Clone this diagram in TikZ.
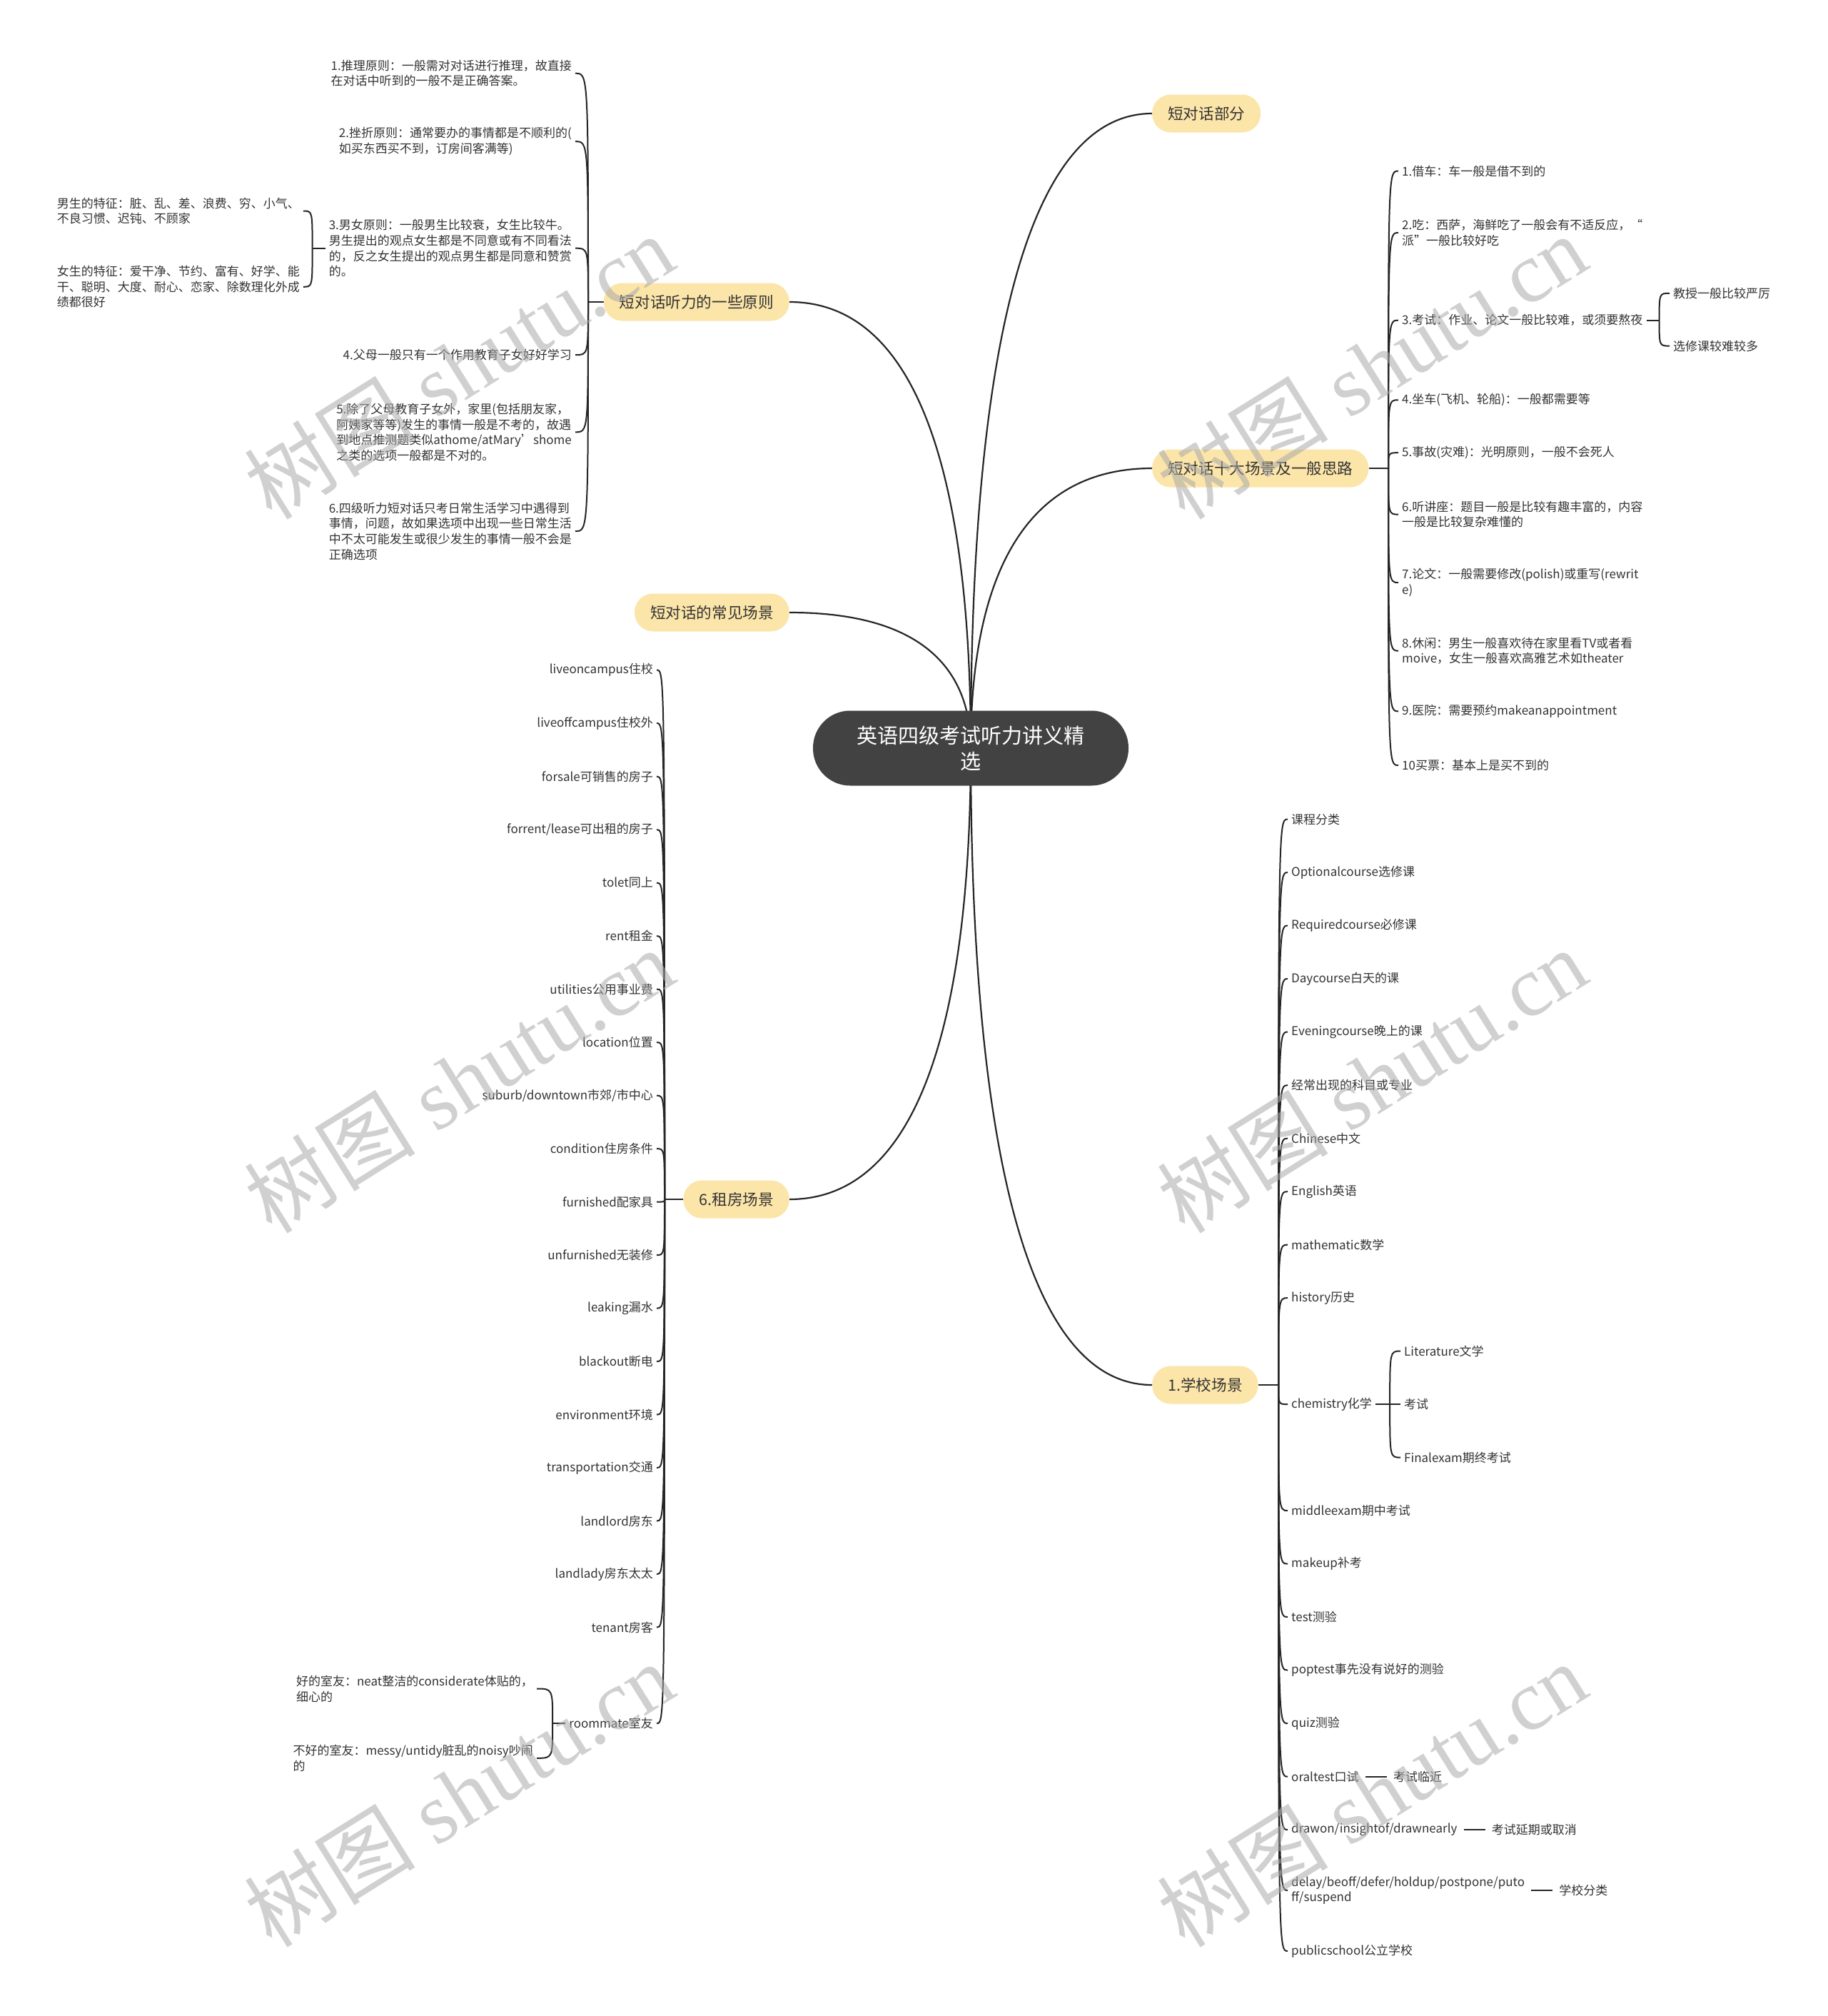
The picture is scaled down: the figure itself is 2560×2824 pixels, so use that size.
\documentclass[tikz,border=0pt]{standalone}
\usepackage{fontspec}
\setmainfont{Noto Sans CJK SC}
\newfontfamily\wmlatin{Liberation Serif}
\usetikzlibrary{calc,backgrounds,positioning}
\definecolor{txtc}{RGB}{51,51,51}
\definecolor{linec}{RGB}{38,38,38}
\definecolor{rootc}{RGB}{66,66,66}
\definecolor{lonec}{RGB}{252,229,169}
\definecolor{wmc}{RGB}{170,170,170}
\newcommand\rootlink[1]{\draw[rootconn] (root.center) .. controls ($(root.center)!0.5!(root.center |- #1)$) and ($(#1)!0.8!(root.center |- #1)$) .. (#1);}
\newcommand\hk[2]{\draw[conn] (#1) .. controls (#1 |- #2) and (#1 |- #2) .. (#2);}
\begin{document}
\begin{tikzpicture}[x=1pt,y=-1pt,
  rootnode/.style={fill=rootc, text=white, rounded corners=52pt, minimum width=442pt, minimum height=105pt, align=center, font=\fontsize{29}{36}\selectfont, inner sep=0pt},
  lone/.style={fill=lonec, rounded corners=26pt, minimum height=53pt, inner xsep=22pt, inner ysep=0pt, font=\fontsize{21.6}{26}\selectfont, text=txtc},
  leaf/.style={font=\fontsize{17}{21.6}\selectfont, inner xsep=5pt, inner ysep=3pt, align=left, text=txtc},
  conn/.style={draw=linec, line width=2pt},
  rootconn/.style={draw=linec, line width=2.2pt},
  wm/.style={text=wmc, opacity=0.55, font=\fontsize{120}{120}\selectfont, rotate=32, inner sep=0pt}]
\useasboundingbox (0,0) rectangle (2560,2824);
% root
\node[rootnode] (root) at (1360,1048) {英语四级考试听力讲义精\\选};
% level 1
\node[lone, anchor=west] (A) at (1614,159) {短对话部分};
\node[lone, anchor=west] (B) at (1614,656) {短对话十大场景及一般思路};
\node[lone, anchor=east] (C) at (1106,423) {短对话听力的一些原则};
\node[lone, anchor=east] (D) at (1106,858) {短对话的常见场景};
\node[lone, anchor=east] (E) at (1106,1680) {6.租房场景};
\node[lone, anchor=west] (F) at (1614,1940) {1.学校场景};
% B children
\coordinate (jB) at (1945,656);
\node[leaf, anchor=west] (b1) at (1959,239.6) {1.借车：车一般是借不到的};
\node[leaf, anchor=west] (b2) at (1959,326) {2.吃：西萨，海鲜吃了一般会有不适反应，“\\派”一般比较好吃};
\node[leaf, anchor=west] (b3) at (1959,448.6) {3.考试：作业、论文一般比较难，或须要熬夜};
\node[leaf, anchor=west] (b4) at (1959,560.3) {4.坐车(飞机、轮船)：一般都需要等};
\node[leaf, anchor=west] (b5) at (1959,634.2) {5.事故(灾难)：光明原则，一般不会死人};
\node[leaf, anchor=west] (b6) at (1959,720.6) {6.听讲座：题目一般是比较有趣丰富的，内容\\一般是比较复杂难懂的};
\node[leaf, anchor=west] (b7) at (1959,816.1) {7.论文：一般需要修改(polish)或重写(rewrit\\e)};
\node[leaf, anchor=west] (b8) at (1959,911.6) {8.休闲：男生一般喜欢待在家里看TV或者看\\moive，女生一般喜欢高雅艺术如theater};
\node[leaf, anchor=west] (b9) at (1959,996.3) {9.医院：需要预约makeanappointment};
\node[leaf, anchor=west] (b10) at (1959,1072) {10买票：基本上是买不到的};
\coordinate (jB3) at ([xshift=18pt]b3.east);
\node[leaf, anchor=west] (b3a) at (2339,410.8) {教授一般比较严厉};
\node[leaf, anchor=west] (b3b) at (2339,484.6) {选修课较难较多};
% C children
\coordinate (jC) at (824,423);
\node[leaf, anchor=east] (c1) at (806,102.7) {1.推理原则：一般需对对话进行推理，故直接\\在对话中听到的一般不是正确答案。};
\node[leaf, anchor=east] (c2) at (806,198.2) {2.挫折原则：通常要办的事情都是不顺利的(\\如买东西买不到，订房间客满等)};
\node[leaf, anchor=east] (c3) at (806,347.7) {3.男女原则：一般男生比较衰，女生比较牛。\\男生提出的观点女生都是不同意或有不同看法\\的，反之女生提出的观点男生都是同意和赞赏\\的。};
\node[leaf, anchor=east] (c4) at (806,497.2) {4.父母一般只有一个作用教育子女好好学习};
\node[leaf, anchor=east] (c5) at (806,605.3) {5.除了父母教育子女外，家里(包括朋友家，\\阿姨家等等)发生的事情一般是不考的，故遇\\到地点推测题类似athome/atMary’shome\\之类的选项一般都是不对的。};
\node[leaf, anchor=east] (c6) at (806,744.1) {6.四级听力短对话只考日常生活学习中遇得到\\事情，问题，故如果选项中出现一些日常生活\\中不太可能发生或很少发生的事情一般不会是\\正确选项};
\coordinate (jC3) at ([xshift=-18pt]c3.west);
\node[leaf, anchor=east] (c3a) at (425,295.5) {男生的特征：脏、乱、差、浪费、穷、小气、\\不良习惯、迟钝、不顾家};
\node[leaf, anchor=east] (c3b) at (425,401.8) {女生的特征：爱干净、节约、富有、好学、能\\干、聪明、大度、耐心、恋家、除数理化外成\\绩都很好};
% E children
\coordinate (jE) at (931,1680);
\node[leaf, anchor=east] (e1) at (920,938.6) {liveoncampus住校};
\node[leaf, anchor=east] (e2) at (920,1013.1) {liveoffcampus住校外};
\node[leaf, anchor=east] (e3) at (920,1087.6) {forsale可销售的房子};
\node[leaf, anchor=east] (e4) at (920,1162.1) {forrent/lease可出租的房子};
\node[leaf, anchor=east] (e5) at (920,1236.6) {tolet同上};
\node[leaf, anchor=east] (e6) at (920,1311.1) {rent租金};
\node[leaf, anchor=east] (e7) at (920,1385.6) {utilities公用事业费};
\node[leaf, anchor=east] (e8) at (920,1460.1) {location位置};
\node[leaf, anchor=east] (e9) at (920,1534.6) {suburb/downtown市郊/市中心};
\node[leaf, anchor=east] (e10) at (920,1609.1) {condition住房条件};
\node[leaf, anchor=east] (e11) at (920,1683.6) {furnished配家具};
\node[leaf, anchor=east] (e12) at (920,1758.1) {unfurnished无装修};
\node[leaf, anchor=east] (e13) at (920,1832.6) {leaking漏水};
\node[leaf, anchor=east] (e14) at (920,1907.1) {blackout断电};
\node[leaf, anchor=east] (e15) at (920,1981.6) {environment环境};
\node[leaf, anchor=east] (e16) at (920,2056.1) {transportation交通};
\node[leaf, anchor=east] (e17) at (920,2130.6) {landlord房东};
\node[leaf, anchor=east] (e18) at (920,2205.1) {landlady房东太太};
\node[leaf, anchor=east] (e19) at (920,2279.6) {tenant房客};
\node[leaf, anchor=east] (e20) at (920,2414) {roommate室友};
\coordinate (jE20) at ([xshift=-18pt]e20.west);
\node[leaf, anchor=east] (e20a) at (752,2365.5) {好的室友：neat整洁的considerate体贴的，\\细心的};
\node[leaf, anchor=east] (e20b) at (752,2462.8) {不好的室友：messy/untidy脏乱的noisy吵闹\\的};
% F children
\coordinate (jF) at (1791,1940);
\node[leaf, anchor=west] (f1) at (1804,1147.6) {课程分类};
\node[leaf, anchor=west] (f2) at (1804,1222.1) {Optionalcourse选修课};
\node[leaf, anchor=west] (f3) at (1804,1296.6) {Requiredcourse必修课};
\node[leaf, anchor=west] (f4) at (1804,1371.1) {Daycourse白天的课};
\node[leaf, anchor=west] (f5) at (1804,1445.6) {Eveningcourse晚上的课};
\node[leaf, anchor=west] (f6) at (1804,1520.1) {经常出现的科目或专业};
\node[leaf, anchor=west] (f7) at (1804,1594.6) {Chinese中文};
\node[leaf, anchor=west] (f8) at (1804,1669.1) {English英语};
\node[leaf, anchor=west] (f9) at (1804,1743.6) {mathematic数学};
\node[leaf, anchor=west] (f10) at (1804,1818.1) {history历史};
\node[leaf, anchor=west] (f11) at (1804,1967.1) {chemistry化学};
\node[leaf, anchor=west] (f12) at (1804,2116.1) {middleexam期中考试};
\node[leaf, anchor=west] (f13) at (1804,2190.6) {makeup补考};
\node[leaf, anchor=west] (f14) at (1804,2265.1) {test测验};
\node[leaf, anchor=west] (f15) at (1804,2339.6) {poptest事先没有说好的测验};
\node[leaf, anchor=west] (f16) at (1804,2414.1) {quiz测验};
\node[leaf, anchor=west] (f17) at (1804,2488.6) {oraltest口试};
\node[leaf, anchor=west] (f18) at (1804,2563.1) {drawon/insightof/drawnearly};
\node[leaf, anchor=west] (f19) at (1804,2648) {delay/beoff/defer/holdup/postpone/puto\\ff/suspend};
\node[leaf, anchor=west] (f20) at (1804,2733) {publicschool公立学校};
\coordinate (jF11) at ([xshift=20pt]f11.east);
\node[leaf, anchor=west] (f11a) at (1962,1892.6) {Literature文学};
\node[leaf, anchor=west] (f11b) at (1962,1967.1) {考试};
\node[leaf, anchor=west] (f11c) at (1962,2041.6) {Finalexam期终考试};
\node[leaf, right=38pt of f17] (f17a) {考试临近};
\node[leaf, right=38pt of f18] (f18a) {考试延期或取消};
\node[leaf, right=38pt of f19] (f19a) {学校分类};
% connectors
\begin{pgfonlayer}{background}
\fill[white] (0,0) rectangle (2560,2824);
\rootlink{A.west}
\rootlink{B.west}
\rootlink{C.east}
\rootlink{D.east}
\rootlink{E.east}
\rootlink{F.west}
\draw[conn] (B.east) -- (jB);
\foreach \n in {b1,b2,b3,b4,b5,b6,b7,b8,b9,b10} {\hk{jB}{\n.west}}
\draw[conn] (b3.east) -- (jB3);
\hk{jB3}{b3a.west}
\hk{jB3}{b3b.west}
\draw[conn] (C.west) -- (jC);
\foreach \n in {c1,c2,c3,c4,c5,c6} {\hk{jC}{\n.east}}
\draw[conn] (c3.west) -- (jC3);
\hk{jC3}{c3a.east}
\hk{jC3}{c3b.east}
\draw[conn] (E.west) -- (jE);
\foreach \n in {e1,e2,e3,e4,e5,e6,e7,e8,e9,e10,e11,e12,e13,e14,e15,e16,e17,e18,e19,e20} {\hk{jE}{\n.east}}
\draw[conn] (e20.west) -- (jE20);
\hk{jE20}{e20a.east}
\hk{jE20}{e20b.east}
\draw[conn] (F.east) -- (jF);
\foreach \n in {f1,f2,f3,f4,f5,f6,f7,f8,f9,f10,f11,f12,f13,f14,f15,f16,f17,f18,f19,f20} {\hk{jF}{\n.west}}
\draw[conn] (f11.east) -- (jF11);
\hk{jF11}{f11a.west}
\hk{jF11}{f11b.west}
\hk{jF11}{f11c.west}
\draw[conn, shorten <=4pt, shorten >=4pt] (f17.east) -- (f17a.west);
\draw[conn, shorten <=4pt, shorten >=4pt] (f18.east) -- (f18a.west);
\draw[conn, shorten <=4pt, shorten >=4pt] (f19.east) -- (f19a.west);
\end{pgfonlayer}
% watermarks
\node[wm] (wm1) at (643,513) {树图\hspace{0.25em}{\wmlatin shutu.cn}};
\node[wm] (wm2) at (1922,513) {树图\hspace{0.25em}{\wmlatin shutu.cn}};
\node[wm] (wm3) at (643,1513) {树图\hspace{0.25em}{\wmlatin shutu.cn}};
\node[wm] (wm4) at (1922,1513) {树图\hspace{0.25em}{\wmlatin shutu.cn}};
\node[wm] (wm5) at (643,2513) {树图\hspace{0.25em}{\wmlatin shutu.cn}};
\node[wm] (wm6) at (1922,2513) {树图\hspace{0.25em}{\wmlatin shutu.cn}};
\end{tikzpicture}
\end{document}
